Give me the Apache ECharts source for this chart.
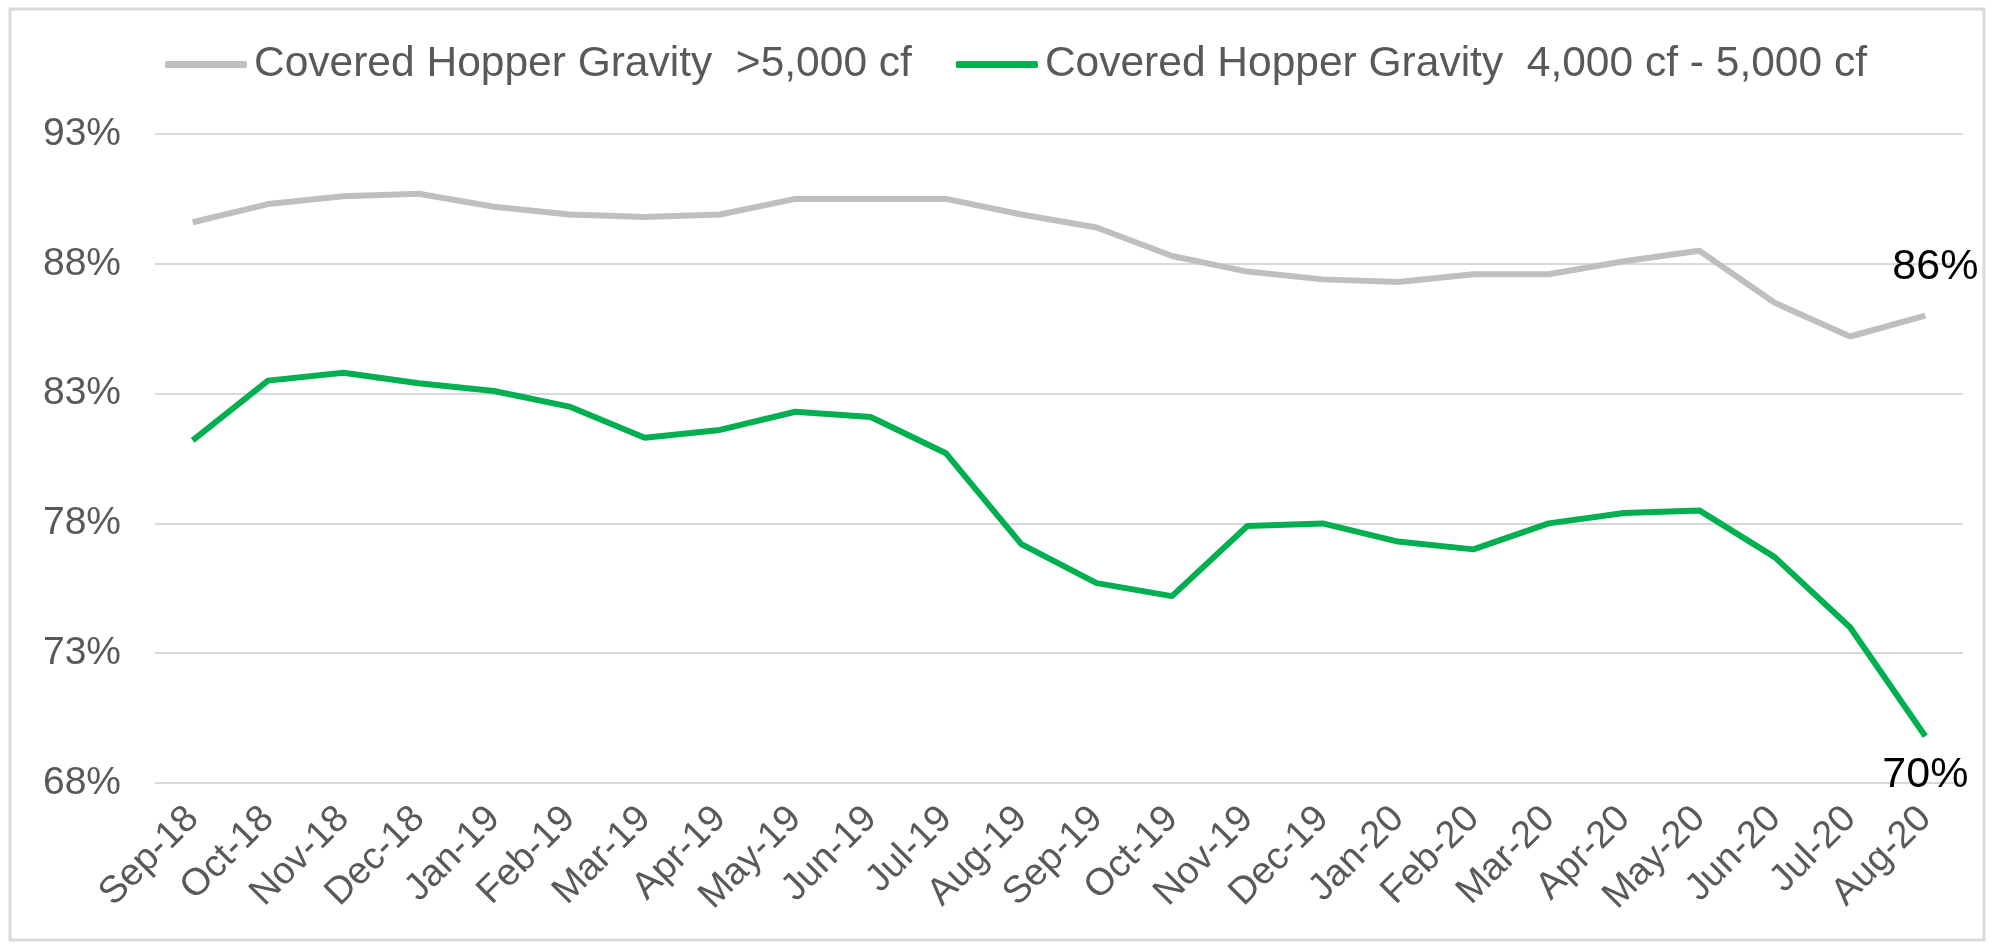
<!DOCTYPE html>
<html>
<head>
<meta charset="utf-8">
<title>Covered Hopper Gravity</title>
<script src="https://cdn.jsdelivr.net/npm/echarts@6/dist/echarts.min.js"></script>
<style>
  html, body { margin: 0; padding: 0; background: #ffffff; }
  #chart { width: 1996px; height: 949px; }
</style>
</head>
<body>
<div id="chart"></div>
<script>
const months = ['Sep-18', 'Oct-18', 'Nov-18', 'Dec-18', 'Jan-19', 'Feb-19', 'Mar-19', 'Apr-19',
  'May-19', 'Jun-19', 'Jul-19', 'Aug-19', 'Sep-19', 'Oct-19', 'Nov-19', 'Dec-19',
  'Jan-20', 'Feb-20', 'Mar-20', 'Apr-20', 'May-20', 'Jun-20', 'Jul-20', 'Aug-20']

const over5000 = [89.6, 90.3, 90.6, 90.7, 90.2, 89.9, 89.8, 89.9, 90.5, 90.5, 90.5, 89.9,
  89.4, 88.3, 87.7, 87.4, 87.3, 87.6, 87.6, 88.1, 88.5, 86.5, 85.2, 86.0]

const from4000to5000 = [81.2, 83.5, 83.8, 83.4, 83.1, 82.5, 81.3, 81.6, 82.3, 82.1, 80.7, 77.2,
  75.7, 75.2, 77.9, 78.0, 77.3, 77.0, 78.0, 78.4, 78.5, 76.7, 74.0, 69.8]

const yTicks = [68, 73, 78, 83, 88, 93]

const seriesNames = ['Covered Hopper Gravity  >5,000 cf', 'Covered Hopper Gravity  4,000 cf - 5,000 cf']

const font = 'Liberation Sans, Arial, sans-serif'

// only the last point gets a value label
function lastLabeled(values, label) {
  return values.map((v, i) => i === values.length - 1 ? { value: v, label: label } : v)
}

const chart = echarts.init(document.getElementById('chart'))
chart.setOption({
  backgroundColor: '#ffffff',
  animation: false,
  graphic: [{
    type: 'rect',
    shape: { x: 10, y: 9, width: 1974, height: 931 },
    style: { fill: 'none', stroke: '#d9d9d9', lineWidth: 3 },
    silent: true
  }],
  legend: {
    data: seriesNames,
    left: 160,
    top: 38,
    itemWidth: 82,
    itemHeight: 7,
    itemGap: 44,
    icon: 'roundRect',
    textStyle: { fontFamily: font, fontSize: 42.5, color: '#595959', padding: [0, 0, 0, 2] }
  },
  grid: {
    left: 155,
    right: 33,
    top: 134,
    bottom: 166
  },
  xAxis: {
    type: 'category',
    data: months,
    boundaryGap: true,
    axisLine: { show: false },
    axisTick: { show: false },
    axisLabel: {
      rotate: 45,
      margin: 30,
      interval: 0,
      fontFamily: font,
      fontSize: 38,
      color: '#595959'
    }
  },
  yAxis: {
    type: 'value',
    min: 68,
    max: 93,
    axisLine: { show: false },
    axisTick: { show: false, customValues: yTicks },
    axisLabel: {
      customValues: yTicks,
      margin: 34,
      fontFamily: font,
      fontSize: 39,
      color: '#595959',
      formatter: '{value}%'
    },
    splitLine: { lineStyle: { color: '#d9d9d9', width: 2 } }
  },
  series: [
    {
      name: seriesNames[0],
      type: 'line',
      data: lastLabeled(over5000, {
        show: true, position: 'top', offset: [10, -22],
        formatter: p => Math.round(p.value) + '%',
        fontFamily: font, fontSize: 43, color: '#000000'
      }),
      showSymbol: true,
      symbol: 'circle',
      symbolSize: 0.1,
      color: '#bfbfbf',
      lineStyle: { color: '#bfbfbf', width: 6 }
    },
    {
      name: seriesNames[1],
      type: 'line',
      data: lastLabeled(from4000to5000, {
        show: true, position: 'bottom', offset: [0, 12],
        formatter: p => Math.round(p.value) + '%',
        fontFamily: font, fontSize: 43, color: '#000000'
      }),
      showSymbol: true,
      symbol: 'circle',
      symbolSize: 0.1,
      color: '#00b050',
      lineStyle: { color: '#00b050', width: 6 }
    }
  ]
})
</script>
</body>
</html>
